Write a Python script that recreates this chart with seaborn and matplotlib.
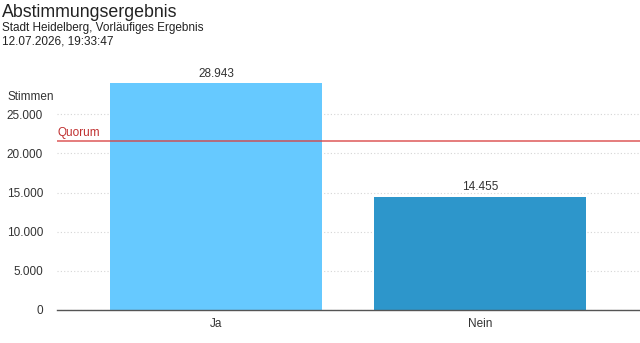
import matplotlib
matplotlib.use("Agg")
import matplotlib.pyplot as plt
import seaborn as sns
import pandas as pd
from matplotlib.ticker import FuncFormatter

categories = ["Ja", "Nein"]
votes = [28943, 14455]
colors = ["#66C9FF", "#2D96CB"]
quorum = 21600
yticks = [0, 5000, 10000, 15000, 20000, 25000]

title = "Abstimmungsergebnis"
subtitle = "Stadt Heidelberg, Vorläufiges Ergebnis"
timestamp = "12.07.2026, 19:33:47"

sns.set_theme(style="white")
plt.rcParams['font.family'] = ['Liberation Sans', 'DejaVu Sans']

df = pd.DataFrame({"cat": categories, "votes": votes})

W, H = 640, 343
fig = plt.figure(figsize=(W / 100, H / 100), dpi=100)
left, right, top, bottom = 57, 640, 75, 310
ax = fig.add_axes([left / W, 1 - bottom / H, (right - left) / W, (bottom - top) / H])

sns.barplot(data=df, x="cat", y="votes", hue="cat", palette=colors, width=0.8,
            legend=False, ax=ax, saturation=1, zorder=2, linewidth=0, edgecolor="none")

ax.set_xlim(-0.602, 1.606)
ymax = 25000 * (bottom - top) / (bottom - 114.3)
ax.set_ylim(0, ymax)
ax.set_yticks(yticks)
ax.yaxis.set_major_formatter(FuncFormatter(lambda v, p: f"{int(v):,}".replace(",", ".")))
ax.grid(axis="y", color="#d5d5d5", linestyle=(0, (1, 2)), linewidth=0.8, zorder=0)
ax.grid(axis="x", visible=False)
for s in ["top", "right", "left"]:
    ax.spines[s].set_visible(False)
ax.spines["bottom"].set_color("#555555")
ax.spines["bottom"].set_linewidth(1.0)
ax.tick_params(axis="y", length=0, pad=10, labelsize=8.5, labelcolor="#333333")
ax.tick_params(axis="x", length=0, pad=6, labelsize=8.5, labelcolor="#333333")
ax.set_xlabel("")
ax.set_ylabel("")

for i, v in enumerate(votes):
    ax.text(i, v + 500, f"{v:,}".replace(",", "."), ha="center", va="bottom",
            fontsize=8.5, color="#333333", clip_on=False)

ax.axhline(quorum, color="#D94040", alpha=0.8, linewidth=1.2, zorder=3)
ax.text(0, quorum + 300, "Quorum", color="#C03030", fontsize=8.5, ha="left", va="bottom",
        transform=ax.get_yaxis_transform(), zorder=4)

ax.text(-0.005, 1.0 - (97 - top) / (bottom - top), "Stimmen", transform=ax.transAxes,
        ha="right", va="center", fontsize=8.5, color="#333333")

fig.text(2 / W, 1 - 4 / H, title, fontsize=12.8, color="#222222", ha="left", va="top")
fig.text(2 / W, 1 - 22 / H, subtitle, fontsize=8.5, color="#222222", ha="left", va="top")
fig.text(2 / W, 1 - 36 / H, timestamp, fontsize=8.5, color="#222222", ha="left", va="top")

fig.savefig("out.png", dpi=100, facecolor="white")
